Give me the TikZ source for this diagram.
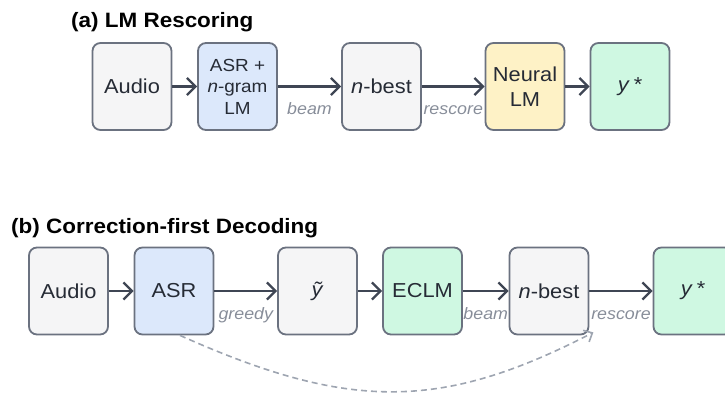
\documentclass[tikz,border=0pt]{standalone}
\usepackage{fontspec}
\setmainfont{Liberation Sans}[FakeStretch=1.08]
\usetikzlibrary{arrows.meta,calc}
\definecolor{boxgray}{HTML}{F5F5F6}
\definecolor{boxblue}{HTML}{DCE8FB}
\definecolor{boxyellow}{HTML}{FEF2C6}
\definecolor{boxgreen}{HTML}{CFF8E2}
\definecolor{bordercol}{HTML}{6B7280}
\definecolor{arrowcol}{HTML}{3F4654}
\definecolor{labelcol}{HTML}{878D99}
\definecolor{dashcol}{HTML}{9EA5B1}
\definecolor{textcol}{HTML}{262B35}
\tikzset{
  box/.style={draw=bordercol, line width=1.8pt, rounded corners=8pt,
    minimum width=79pt, minimum height=87pt, inner sep=0pt, align=center,
    text=textcol, font=\fontsize{20.2}{25}\selectfont},
  gbox/.style={box, fill=boxgray},
  bbox/.style={box, fill=boxblue},
  ybox/.style={box, fill=boxyellow},
  grbox/.style={box, fill=boxgreen},
  arr/.style={draw=arrowcol, line width=2.3pt,
    -{Straight Barb[length=8.5pt,width=17pt]}},
  dasharr/.style={draw=dashcol, line width=1.6pt, dash pattern=on 6pt off 4pt,
    -{Straight Barb[length=7pt,width=13pt]}},
  lbl/.style={text=labelcol, font=\fontsize{16.5}{18}\selectfont\itshape,
    text height=11pt, text depth=3pt, inner sep=0pt, yshift=-24pt},
  ttl/.style={font=\fontsize{20.8}{22}\selectfont\bfseries, text=black,
    inner sep=0pt, anchor=base west}
}
\begin{document}
\begin{tikzpicture}[x=1pt,y=-1pt]
\useasboundingbox (0,0) rectangle (725,394);
% (a)
\node[ttl] (ta) at (71,27) {(a) LM Rescoring};
\node[gbox] (a1) at (132,86.5) {Audio};
\node[bbox, font=\fontsize{17.5}{21.5}\selectfont] (a2) at (237.5,86.5) {ASR +\\\textit{n}-gram\\LM};
\node[gbox] (a3) at (381.5,86.5) {\textit{n}-best};
\node[ybox] (a4) at (525,86.5) {Neural\\LM};
\node[grbox] (a5) at (630,86.5) {\textit{y}\kern4pt*};
\draw[arr] (a1) -- (a2);
\draw[arr] (a2) -- node[lbl]{beam} (a3);
\draw[arr] (a3) -- node[lbl]{rescore} (a4);
\draw[arr] (a4) -- (a5);
% (b)
\node[ttl] (tb) at (11,233) {(b) Correction-first Decoding};
\node[gbox] (b1) at (68.5,291) {Audio};
\node[bbox] (b2) at (174,291) {ASR};
\node[gbox] (b3) at (317.5,291) {\textit{ỹ}};
\node[grbox] (b4) at (422.5,291) {ECLM};
\node[gbox] (b5) at (549,291) {\textit{n}-best};
\node[grbox] (b6) at (693,291) {\textit{y}\kern4pt*};
\draw[arr] (b1) -- (b2);
\draw[arr] (b2) -- node[lbl]{greedy} (b3);
\draw[arr] (b3) -- (b4);
\draw[arr] (b4) -- node[lbl]{beam} (b5);
\draw[arr] (b5) -- node[lbl]{rescore} (b6);
\coordinate (ds) at ($(b2.south)+(6,0)$);
\coordinate (de) at ($(b5.south east)+(4,-3)$);
\draw[dasharr] (ds) .. controls (349,411) and (441,411) .. (de);
\end{tikzpicture}
\end{document}
